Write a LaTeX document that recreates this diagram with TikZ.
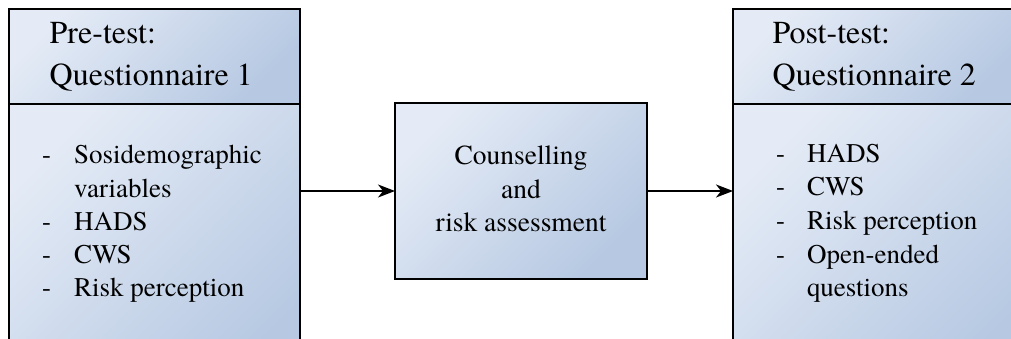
\documentclass[tikz,border=0pt]{standalone}
\usepackage{fontspec}
\setmainfont{texgyretermes}[Extension=.otf, UprightFont=*-regular, BoldFont=*-bold, ItalicFont=*-italic, BoldItalicFont=*-bolditalic]
\usetikzlibrary{arrows.meta}
\definecolor{boxlight}{HTML}{E4EBF6}
\definecolor{boxdark}{HTML}{B6C8E2}
\tikzset{
  panel/.style={draw=black, line width=1.5pt, rectangle, inner sep=0pt, outer sep=0pt,
    top color=boxlight, bottom color=boxdark, shading angle=45},
  titletext/.style={inner sep=0pt, anchor=base west, font=\fontsize{32}{42}\selectfont},
  itemtext/.style={inner sep=0pt, anchor=base west, font=\fontsize{27}{33}\selectfont},
  centertext/.style={inner sep=0pt, anchor=base, font=\fontsize{27.5}{33}\selectfont},
  flow/.style={line width=1.5pt, -{Stealth[length=17pt,width=13pt,inset=5pt]}},
}
\begin{document}
\begin{tikzpicture}[x=1pt,y=-1pt]
  \useasboundingbox (0,0) rectangle (1011,339);
  \clip (0,0) rectangle (1011,339);

  % pre-test questionnaire
  \node[panel, anchor=north west, minimum width=291pt, minimum height=95pt] (h1) at (9,9) {};
  \node[panel, anchor=north west, minimum width=291pt, minimum height=290pt] (b1) at (h1.south west) {};

  % counselling step
  \node[panel, anchor=north west, minimum width=252pt, minimum height=176pt] (m) at (395,103) {};

  % post-test questionnaire
  \node[panel, anchor=north west, minimum width=291pt, minimum height=95pt] (h2) at (733,9) {};
  \node[panel, anchor=north west, minimum width=291pt, minimum height=290pt] (b2) at (h2.south west) {};

  % connectors
  \draw[flow] (m.west -| b1.east) -- (m.west);
  \draw[flow] (m.east) -- (m.east -| b2.west);

  % titles
  \node[titletext] (t1a) at (49.5,44) {Pre-test:};
  \node[titletext] (t1b) at (49.5,86) {Questionnaire 1};
  \node[titletext] (t2a) at (772.5,44) {Post-test:};
  \node[titletext] (t2b) at (772.5,86) {Questionnaire 2};

  % first list
  \node[itemtext] (d11) at (42,164) {-};
  \node[itemtext] (i11) at (74,164) {Sosidemographic};
  \node[itemtext] (i12) at (74,197) {variables};
  \node[itemtext] (d13) at (42,230) {-};
  \node[itemtext] (i13) at (74,230) {HADS};
  \node[itemtext] (d14) at (42,263) {-};
  \node[itemtext] (i14) at (74,263) {CWS};
  \node[itemtext] (d15) at (42,296) {-};
  \node[itemtext] (i15) at (74,296) {Risk perception};

  % middle text
  \node[centertext] (c1) at (521,165) {Counselling};
  \node[centertext] (c2) at (521,198) {and};
  \node[centertext] (c3) at (521,231) {risk assessment};

  % second list
  \node[itemtext] (d21) at (776,163) {-};
  \node[itemtext] (i21) at (807,163) {HADS};
  \node[itemtext] (d22) at (776,196) {-};
  \node[itemtext] (i22) at (807,196) {CWS};
  \node[itemtext] (d23) at (776,229) {-};
  \node[itemtext] (i23) at (807,229) {Risk perception};
  \node[itemtext] (d24) at (776,263) {-};
  \node[itemtext] (i24) at (807,263) {Open-ended};
  \node[itemtext] (i25) at (807,296) {questions};
\end{tikzpicture}
\end{document}
